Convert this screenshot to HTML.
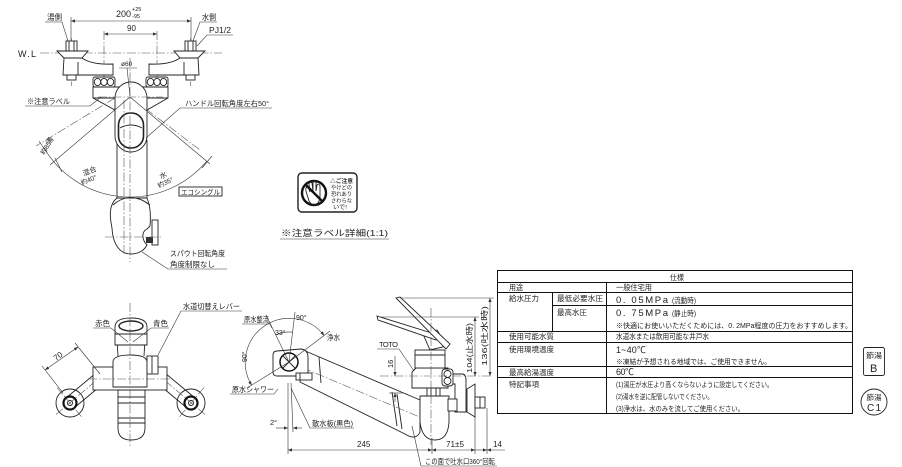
<!DOCTYPE html>
<html><head><meta charset="utf-8"><style>
html,body{margin:0;padding:0;background:#fff;}
svg{display:block;}
text{font-family:"Liberation Sans","Noto Sans CJK JP",sans-serif;fill:#222;}
.o{stroke:#222;stroke-width:0.9;fill:none;}
.w{stroke:#222;stroke-width:0.9;fill:#fff;}
.c{stroke:#555;stroke-width:0.6;fill:none;stroke-dasharray:9 2 1.5 2;}
.d{stroke:#333;stroke-width:0.6;fill:none;}
.t{stroke:#111;stroke-width:1;fill:none;}
</style></head><body>
<svg width="902" height="467" viewBox="0 0 902 467" xmlns="http://www.w3.org/2000/svg">
<defs>
<marker id="ar" viewBox="0 0 10 10" refX="10" refY="5" markerUnits="userSpaceOnUse" markerWidth="5" markerHeight="4" orient="auto-start-reverse"><path d="M0,1 L10,5 L0,9 z" fill="#333"/></marker>
</defs>
<rect width="902" height="467" fill="#fff"/>

<!-- ================= TOP VIEW ================= -->
<line class="d" x1="71" y1="21" x2="191" y2="21" marker-start="url(#ar)" marker-end="url(#ar)"/>
<line class="d" x1="71" y1="17" x2="71" y2="42"/>
<line class="d" x1="191" y1="17" x2="191" y2="42"/>
<line class="d" x1="104" y1="34" x2="157" y2="34" marker-start="url(#ar)" marker-end="url(#ar)"/>
<line class="c" x1="104" y1="31" x2="104" y2="100"/>
<line class="c" x1="157" y1="31" x2="157" y2="100"/>
<line class="c" x1="40" y1="53" x2="222" y2="53"/>
<line class="c" x1="71.5" y1="38" x2="71.5" y2="86"/>
<line class="c" x1="190.5" y1="38" x2="190.5" y2="86"/>
<text x="116" y="17" font-size="9" textLength="15" lengthAdjust="spacingAndGlyphs">200</text>
<text x="132" y="11" font-size="5.5">+25</text>
<text x="132" y="18" font-size="5.5">-95</text>
<text x="127" y="31" font-size="8">90</text>
<text x="18" y="57" font-size="9" textLength="18" lengthAdjust="spacing">W.L</text>
<text x="47" y="20" font-size="8" textLength="15" lengthAdjust="spacingAndGlyphs">湯側</text>
<path class="d" d="M45,22 L62,22 L68,41"/>
<text x="202" y="20" font-size="8" textLength="14" lengthAdjust="spacingAndGlyphs">水側</text>
<path class="d" d="M217,22 L200,22 L193,41"/>
<text x="209" y="33" font-size="8" textLength="22" lengthAdjust="spacingAndGlyphs">PJ1/2</text>
<path class="d" d="M233,35 L207,35 L197,46"/>

<g id="lv">
<rect class="w" x="66" y="41" width="11" height="11"/>
<line class="o" x1="69" y1="41" x2="69" y2="52"/><line class="o" x1="74" y1="41" x2="74" y2="52"/>
<path class="w" d="M57,51 L88,51 L82,58 L64,58 Z"/>
<path class="w" d="M64,58 L63,75 L113,75 L113,64 Q92,65 82,58 Z"/>
<line class="o" x1="78" y1="62" x2="78" y2="75"/>
<rect class="w" x="67" y="75" width="9" height="5"/>
</g>
<use href="#lv" transform="matrix(-1 0 0 1 262 0)"/>
<g id="un">
<rect class="w" x="93" y="77" width="22" height="10" rx="2"/>
<ellipse class="o" cx="97.5" cy="82" rx="3.2" ry="3.6"/><ellipse class="o" cx="104" cy="82" rx="3.2" ry="3.6"/><ellipse class="o" cx="110.5" cy="82" rx="3.2" ry="3.6"/>
</g>
<use href="#un" transform="matrix(-1 0 0 1 261 0)"/>
<path class="w" d="M93,87 L168,87 L168,98 L147,110 L115,110 L93,98 Z"/>
<line class="o" x1="93" y1="98" x2="168" y2="98"/>
<line class="o" x1="117" y1="140" x2="117" y2="199"/>
<line class="o" x1="147" y1="140" x2="147" y2="199"/>
<path class="w" d="M117,198 C108,205 110,218 112,228 C113,245 120,254 131,254 C140,254 145,249 147,245 C142,240 141,232 147,229 L150,226 C151,215 150,205 147,198 Z"/>
<path class="o" d="M113,205 Q130,190 150,205"/>
<rect class="w" x="152" y="220" width="6" height="25"/>
<rect x="146" y="237" width="7" height="6" fill="#333"/>
<line class="c" x1="105" y1="237" x2="163" y2="237"/>
<rect class="w" x="115" y="82" width="32" height="70" rx="16"/>
<rect x="118.5" y="113" width="25" height="35" rx="12" fill="none" stroke="#222" stroke-width="1.6"/>
<path class="o" d="M120,128 Q131,122 142,128"/>
<line class="c" x1="130" y1="58" x2="130" y2="262"/>
<line class="c" x1="98" y1="97" x2="163" y2="97"/>
<line class="c" x1="124" y1="100" x2="124" y2="255"/>
<text x="121" y="66" font-size="6.5">ø60</text>
<path class="d" d="M119,68 L137,68 M127,68 L130,96"/>
<path class="d" d="M206.6,161.3 A100,100 0 0 1 43.4,147"/>
<line class="d" x1="130" y1="97" x2="50" y2="165"/>
<line class="c" x1="115" y1="98" x2="36" y2="146"/>
<line class="d" x1="130" y1="97" x2="210" y2="164"/>
<line class="c" x1="146" y1="109" x2="200" y2="150"/>
<line class="d" x1="55" y1="158" x2="62" y2="172"/>
<line class="d" x1="39" y1="141" x2="47" y2="153"/>
<line class="d" x1="202" y1="168" x2="212" y2="156"/>
<text transform="translate(50,145) rotate(-58)" font-size="7">湯</text>
<text transform="translate(44,155) rotate(-58)" font-size="6.5">約85°</text>
<text transform="translate(84,176) rotate(-22)" font-size="7">混合</text>
<text transform="translate(82,185) rotate(-22)" font-size="6.5">約40°</text>
<text transform="translate(161,179) rotate(-25)" font-size="7">水</text>
<text transform="translate(159,188) rotate(-25)" font-size="6.5">約35°</text>
<rect class="o" x="179" y="187" width="43" height="9"/>
<text x="181" y="194.5" font-size="7" textLength="39" lengthAdjust="spacingAndGlyphs">エコシングル</text>
<text x="27" y="104" font-size="7.5" textLength="43" lengthAdjust="spacingAndGlyphs">※注意ラベル</text>
<path class="d" d="M25,106 L90,106 L101,97"/>
<text x="185" y="106" font-size="7.5" textLength="84" lengthAdjust="spacingAndGlyphs">ハンドル回転角度左右50°</text>
<path class="d" d="M272,108 L180,108 L146,138"/>
<text x="170" y="256" font-size="7.5" textLength="55" lengthAdjust="spacingAndGlyphs">スパウト回転角度</text>
<text x="170" y="267" font-size="7.5" textLength="45" lengthAdjust="spacingAndGlyphs">角度制限なし</text>
<path class="d" d="M227,269 L168,269 L142,252"/>

<!-- ================= LABEL ICON ================= -->
<rect x="298" y="173" width="59" height="39" rx="4" fill="none" stroke="#222" stroke-width="1.4"/>
<circle cx="314" cy="193" r="12" fill="none" stroke="#111" stroke-width="2.4"/>
<path class="o" d="M309,201 L306,191 Q305,187 308,187 L310,192 L309,184 Q310,181 312,183 L313,191 L313,182 Q315,180 316,182 L316,191 L317,185 Q319,183 320,186 L320,196 Q320,203 315,205 Q311,205 309,201 Z"/>
<line x1="305.5" y1="184.5" x2="322.5" y2="201.5" stroke="#111" stroke-width="2.4"/>
<text x="330" y="183" font-size="5.5" font-weight="bold" textLength="23" lengthAdjust="spacingAndGlyphs">△ご注意</text>
<text x="331" y="189.5" font-size="5.5" textLength="21" lengthAdjust="spacingAndGlyphs">やけどの</text>
<text x="331" y="196" font-size="5.5" textLength="21" lengthAdjust="spacingAndGlyphs">恐れあり</text>
<text x="331" y="202.5" font-size="5.5" textLength="21" lengthAdjust="spacingAndGlyphs">さわらな</text>
<text x="333" y="209" font-size="5.5" textLength="14" lengthAdjust="spacingAndGlyphs">いで!</text>
<text x="281" y="236" font-size="8.5" textLength="107" lengthAdjust="spacingAndGlyphs">※注意ラベル詳細(1:1)</text>
<line class="d" x1="280" y1="239" x2="389" y2="239"/>

<!-- ================= BOTTOM-LEFT VIEW ================= -->
<path class="w" d="M96,373 L104,383 L74,408 L66,398 Z"/>
<path class="w" d="M165,373 L157,383 L187,408 L195,398 Z"/>
<g id="vc">
<circle class="o" cx="70" cy="403" r="14"/>
<circle cx="70" cy="403" r="6.5" fill="#fff" stroke="#111" stroke-width="2.2"/>
<circle class="o" cx="70" cy="403" r="2.5"/>
<line class="c" x1="56" y1="414.5" x2="104" y2="374"/>
<line class="c" x1="57" y1="387.6" x2="83" y2="418.4"/>
</g>
<use href="#vc" transform="matrix(-1 0 0 1 261 0)"/>
<rect class="w" x="93" y="367" width="74" height="23"/>
<path class="w" d="M118,390 L118,428 Q118,440 131,440 Q145,440 145,428 L145,390 Z"/>
<line class="o" x1="118" y1="397" x2="145" y2="397"/>
<line class="o" x1="118" y1="403" x2="145" y2="403"/>
<line class="o" x1="118" y1="418" x2="145" y2="418"/>
<line class="o" x1="118" y1="423" x2="145" y2="423"/>
<path class="w" d="M113,387 L113,362 Q113,355 130,355 Q147,355 147,362 L147,387 Z"/>
<path class="o" d="M117,340 L118,356 M145,340 L144,356"/>
<path class="w" d="M115,345 L115,327 Q115,318 131,318 Q147,318 147,327 L147,345 Z"/>
<ellipse cx="131" cy="326" rx="12" ry="5" fill="none" stroke="#222" stroke-width="1.4"/>
<line class="o" x1="115" y1="334" x2="147" y2="334"/>
<rect class="w" x="147" y="356" width="11" height="18"/>
<line class="o" x1="152" y1="356" x2="152" y2="374"/>
<line class="c" x1="130" y1="303" x2="130" y2="447"/>
<line class="c" x1="88" y1="379" x2="172" y2="379"/>
<line class="d" x1="45" y1="370" x2="78" y2="347" marker-start="url(#ar)" marker-end="url(#ar)"/>
<line class="d" x1="42" y1="366" x2="63" y2="393"/>
<line class="d" x1="75" y1="343" x2="100" y2="374"/>
<text transform="translate(56,361) rotate(-36)" font-size="8">70</text>
<text x="95" y="326" font-size="7.5" textLength="15" lengthAdjust="spacingAndGlyphs">赤色</text>
<path class="d" d="M93,328 L111,328 L128,342"/>
<text x="153" y="326" font-size="7.5" textLength="15" lengthAdjust="spacingAndGlyphs">青色</text>
<path class="d" d="M169,328 L151,328 L133,342"/>
<text x="183" y="309" font-size="7.5" textLength="57" lengthAdjust="spacingAndGlyphs">水道切替えレバー</text>
<path class="d" d="M242,311 L181,311 L158,355"/>

<!-- ================= SIDE VIEW ================= -->
<path class="w" d="M303,350 L420,400 L420,432 Q416,441 405,434 L300,382 Z"/>
<line class="o" x1="392" y1="392" x2="397" y2="426"/>
<line class="o" x1="397" y1="394" x2="402" y2="429"/>
<line class="o" x1="319" y1="357" x2="321" y2="383"/>
<line class="c" x1="289" y1="362" x2="422" y2="418"/>
<path class="w" d="M277,351 L301,349 Q308,350 308,357 L308,372 Q306,376 300,376 L277,376 Q273,376 273,372 L273,355 Q273,351 277,351 Z"/>
<circle cx="289" cy="362" r="9" fill="#fff" stroke="#111" stroke-width="1.5"/>
<line class="o" x1="283" y1="356" x2="295" y2="368"/><line class="o" x1="295" y1="356" x2="283" y2="368"/>
<rect class="w" x="296" y="373" width="16" height="7"/>
<line class="o" x1="300" y1="373" x2="300" y2="380"/>
<path class="d" d="M251.7,385.3 A44,44 0 0 1 324.1,335.5" marker-start="url(#ar)" marker-end="url(#ar)"/>
<line class="d" x1="289" y1="362" x2="247" y2="388"/>
<line class="d" x1="289" y1="362" x2="266" y2="315"/>
<line class="d" x1="289" y1="362" x2="330" y2="331"/>
<line class="d" x1="289" y1="362" x2="295" y2="312"/>
<path class="d" d="M275.8,335 A30,30 0 0 1 292.7,332.2"/>
<text x="244" y="322" font-size="7.5" textLength="25" lengthAdjust="spacingAndGlyphs">原水整流</text>
<path class="d" d="M242,324 L270,324 L272,328"/>
<text x="296" y="320" font-size="7">90°</text>
<text x="275" y="335" font-size="7">33°</text>
<text x="327" y="340" font-size="7.5" textLength="13" lengthAdjust="spacingAndGlyphs">浄水</text>
<text transform="translate(247,362) rotate(-90)" font-size="7">90°</text>
<text x="232" y="392" font-size="7.5" textLength="42" lengthAdjust="spacingAndGlyphs">原水シャワー</text>
<path class="d" d="M230,394 L274,394 L278,389"/>
<line class="d" x1="288" y1="383" x2="288" y2="454"/>
<line class="d" x1="291" y1="383" x2="293" y2="432"/>
<line class="d" x1="276" y1="428" x2="288" y2="428" marker-end="url(#ar)"/>
<line class="d" x1="302" y1="428" x2="293" y2="428" marker-end="url(#ar)"/>
<text x="270" y="425" font-size="7.5">2°</text>
<text x="312" y="426" font-size="7.5" textLength="41" lengthAdjust="spacingAndGlyphs">散水板(黒色)</text>
<path class="d" d="M354,428 L310,428 L291,388"/>
<rect class="w" x="427" y="387" width="13" height="9"/>
<line class="o" x1="431" y1="387" x2="431" y2="396"/><line class="o" x1="436" y1="387" x2="436" y2="396"/>
<path class="w" d="M420,396 L420,422 Q422,440 435,440 Q448,440 449,422 L449,396 Z"/>
<path class="w" d="M416,368 L448,368 L448,388 L412,388 L412,372 Z"/>
<rect class="w" x="415" y="350" width="30" height="18"/>
<line class="o" x1="415" y1="355" x2="445" y2="355"/>
<path class="w" d="M452,374 L462,374 Q466,374 466,380 L466,412 L455,412 L455,384 L452,384 Z"/>
<rect class="w" x="442" y="369" width="11" height="17" rx="3"/>
<circle class="o" cx="447.5" cy="374" r="3.5"/><circle class="o" cx="447.5" cy="381" r="3.5"/>
<rect class="w" x="448" y="399" width="9" height="12"/>
<path class="w" d="M467,389 L475,384 L475,417 L467,412 Z"/>
<rect class="w" x="475" y="397" width="10" height="11"/>
<line class="o" x1="480" y1="397" x2="480" y2="408"/>
<path class="w" d="M423,334 L437,330 L447,346 L430,350 Z"/>
<path class="w" d="M377,316 L438,335 L436,340 L378,320 Z"/>
<path class="w" d="M396,298 L400,297 L450,344 L446,349 Z"/>
<line class="c" x1="431" y1="308" x2="431" y2="445"/>
<line class="c" x1="380" y1="376" x2="492" y2="376"/>
<line class="d" x1="400" y1="298" x2="494" y2="298"/>
<line class="d" x1="380" y1="317" x2="479" y2="317"/>
<line class="d" x1="475" y1="317" x2="475" y2="376" marker-start="url(#ar)" marker-end="url(#ar)"/>
<line class="d" x1="490" y1="298" x2="490" y2="376" marker-start="url(#ar)" marker-end="url(#ar)"/>
<text transform="translate(472,373) rotate(-90)" font-size="7.5" textLength="50" lengthAdjust="spacingAndGlyphs">104(止水時)</text>
<text transform="translate(487,366) rotate(-90)" font-size="7.5" textLength="60" lengthAdjust="spacingAndGlyphs">136(吐水時)</text>
<line class="d" x1="395" y1="356" x2="395" y2="376" marker-end="url(#ar)"/>
<line class="d" x1="395" y1="402" x2="395" y2="393" marker-end="url(#ar)"/>
<line class="d" x1="389" y1="393" x2="402" y2="393"/>
<text transform="translate(393,368) rotate(-90)" font-size="7.5">16</text>
<text x="379" y="347" font-size="7.5" textLength="19" lengthAdjust="spacing">TOTO</text>
<path class="d" d="M377,349 L399,349 L414,371"/>
<!-- bottom dims -->
<line class="d" x1="288" y1="450" x2="432" y2="450" marker-start="url(#ar)" marker-end="url(#ar)"/>
<line class="d" x1="432" y1="450" x2="475" y2="450" marker-start="url(#ar)" marker-end="url(#ar)"/>
<line class="d" x1="475" y1="450" x2="487" y2="450" marker-end="url(#ar)"/>
<line class="d" x1="505" y1="450" x2="487" y2="450" marker-end="url(#ar)"/>
<line class="d" x1="432" y1="438" x2="432" y2="454"/>
<line class="d" x1="475" y1="417" x2="475" y2="454"/>
<line class="d" x1="487" y1="408" x2="487" y2="454"/>
<text x="357" y="447" font-size="8">245</text>
<text x="446" y="447" font-size="8" textLength="18" lengthAdjust="spacingAndGlyphs">71±5</text>
<text x="493" y="447" font-size="8">14</text>
<text x="425" y="464" font-size="7.5" textLength="70" lengthAdjust="spacingAndGlyphs">この面で吐水口360°回転</text>
<path class="d" d="M497,466 L421,466 L412,426"/>

<!-- ================= TABLE ================= -->
<g stroke="#111" stroke-width="1" fill="none" shape-rendering="crispEdges">
<rect x="497.5" y="270.5" width="355" height="143"/>
<line x1="497" y1="282.5" x2="853" y2="282.5"/>
<line x1="497" y1="292.5" x2="853" y2="292.5"/>
<line x1="552.5" y1="305.5" x2="853" y2="305.5"/>
<line x1="497" y1="331.5" x2="853" y2="331.5"/>
<line x1="497" y1="342.5" x2="853" y2="342.5"/>
<line x1="497" y1="366.5" x2="853" y2="366.5"/>
<line x1="497" y1="377.5" x2="853" y2="377.5"/>
<line x1="606.5" y1="282" x2="606.5" y2="414"/>
<line x1="552.5" y1="292" x2="552.5" y2="331"/>
</g>
<g font-size="7.5">
<text x="670" y="280" textLength="14" lengthAdjust="spacingAndGlyphs">仕様</text>
<text x="509" y="290" textLength="14" lengthAdjust="spacingAndGlyphs">用途</text>
<text x="616" y="290" textLength="36" lengthAdjust="spacingAndGlyphs">一般住宅用</text>
<text x="509" y="301" textLength="30" lengthAdjust="spacingAndGlyphs">給水圧力</text>
<text x="557" y="301" textLength="46" lengthAdjust="spacingAndGlyphs">最低必要水圧</text>
<text x="616" y="303" font-size="9.5" textLength="52" lengthAdjust="spacing">0. 05MPa</text>
<text x="672" y="303" textLength="24" lengthAdjust="spacingAndGlyphs">(流動時)</text>
<text x="557" y="315" textLength="30" lengthAdjust="spacingAndGlyphs">最高水圧</text>
<text x="616" y="316" font-size="9.5" textLength="52" lengthAdjust="spacing">0. 75MPa</text>
<text x="672" y="316" textLength="24" lengthAdjust="spacingAndGlyphs">(静止時)</text>
<text x="616" y="328" font-size="7" textLength="236" lengthAdjust="spacingAndGlyphs">※快適にお使いいただくためには、0. 2MPa程度の圧力をおすすめします。</text>
<text x="509" y="339" textLength="45" lengthAdjust="spacingAndGlyphs">使用可能水質</text>
<text x="616" y="339" textLength="93" lengthAdjust="spacingAndGlyphs">水道水または飲用可能な井戸水</text>
<text x="509" y="352" textLength="45" lengthAdjust="spacingAndGlyphs">使用環境温度</text>
<text x="616" y="353" font-size="9" textLength="30" lengthAdjust="spacing">1~40℃</text>
<text x="616" y="364" font-size="7" textLength="155" lengthAdjust="spacingAndGlyphs">※凍結が予想される地域では、ご使用できません。</text>
<text x="509" y="375" textLength="45" lengthAdjust="spacingAndGlyphs">最高給湯温度</text>
<text x="616" y="375" font-size="9" textLength="18" lengthAdjust="spacing">60℃</text>
<text x="509" y="387" textLength="30" lengthAdjust="spacingAndGlyphs">特記事項</text>
<text x="616" y="387" font-size="7" textLength="157" lengthAdjust="spacingAndGlyphs">(1)湯圧が水圧より高くならないように設定してください。</text>
<text x="616" y="399" font-size="7" textLength="97" lengthAdjust="spacingAndGlyphs">(2)湯水を逆に配管しないでください。</text>
<text x="616" y="411" font-size="7" textLength="128" lengthAdjust="spacingAndGlyphs">(3)浄水は、水のみを流してご使用ください。</text>
</g>

<!-- ================= SYMBOLS ================= -->
<rect x="863.5" y="347.5" width="21" height="28" rx="2" fill="none" stroke="#222" stroke-width="0.9"/>
<text x="866" y="358" font-size="7.5" textLength="16" lengthAdjust="spacingAndGlyphs">節湯</text>
<text x="870" y="372" font-size="11">B</text>
<circle cx="874" cy="402" r="13" fill="none" stroke="#222" stroke-width="0.9"/>
<text x="866.5" y="400" font-size="7.5" textLength="15" lengthAdjust="spacingAndGlyphs">節湯</text>
<text x="867" y="411" font-size="10" textLength="14" lengthAdjust="spacing">C1</text>
</svg>
</body></html>
